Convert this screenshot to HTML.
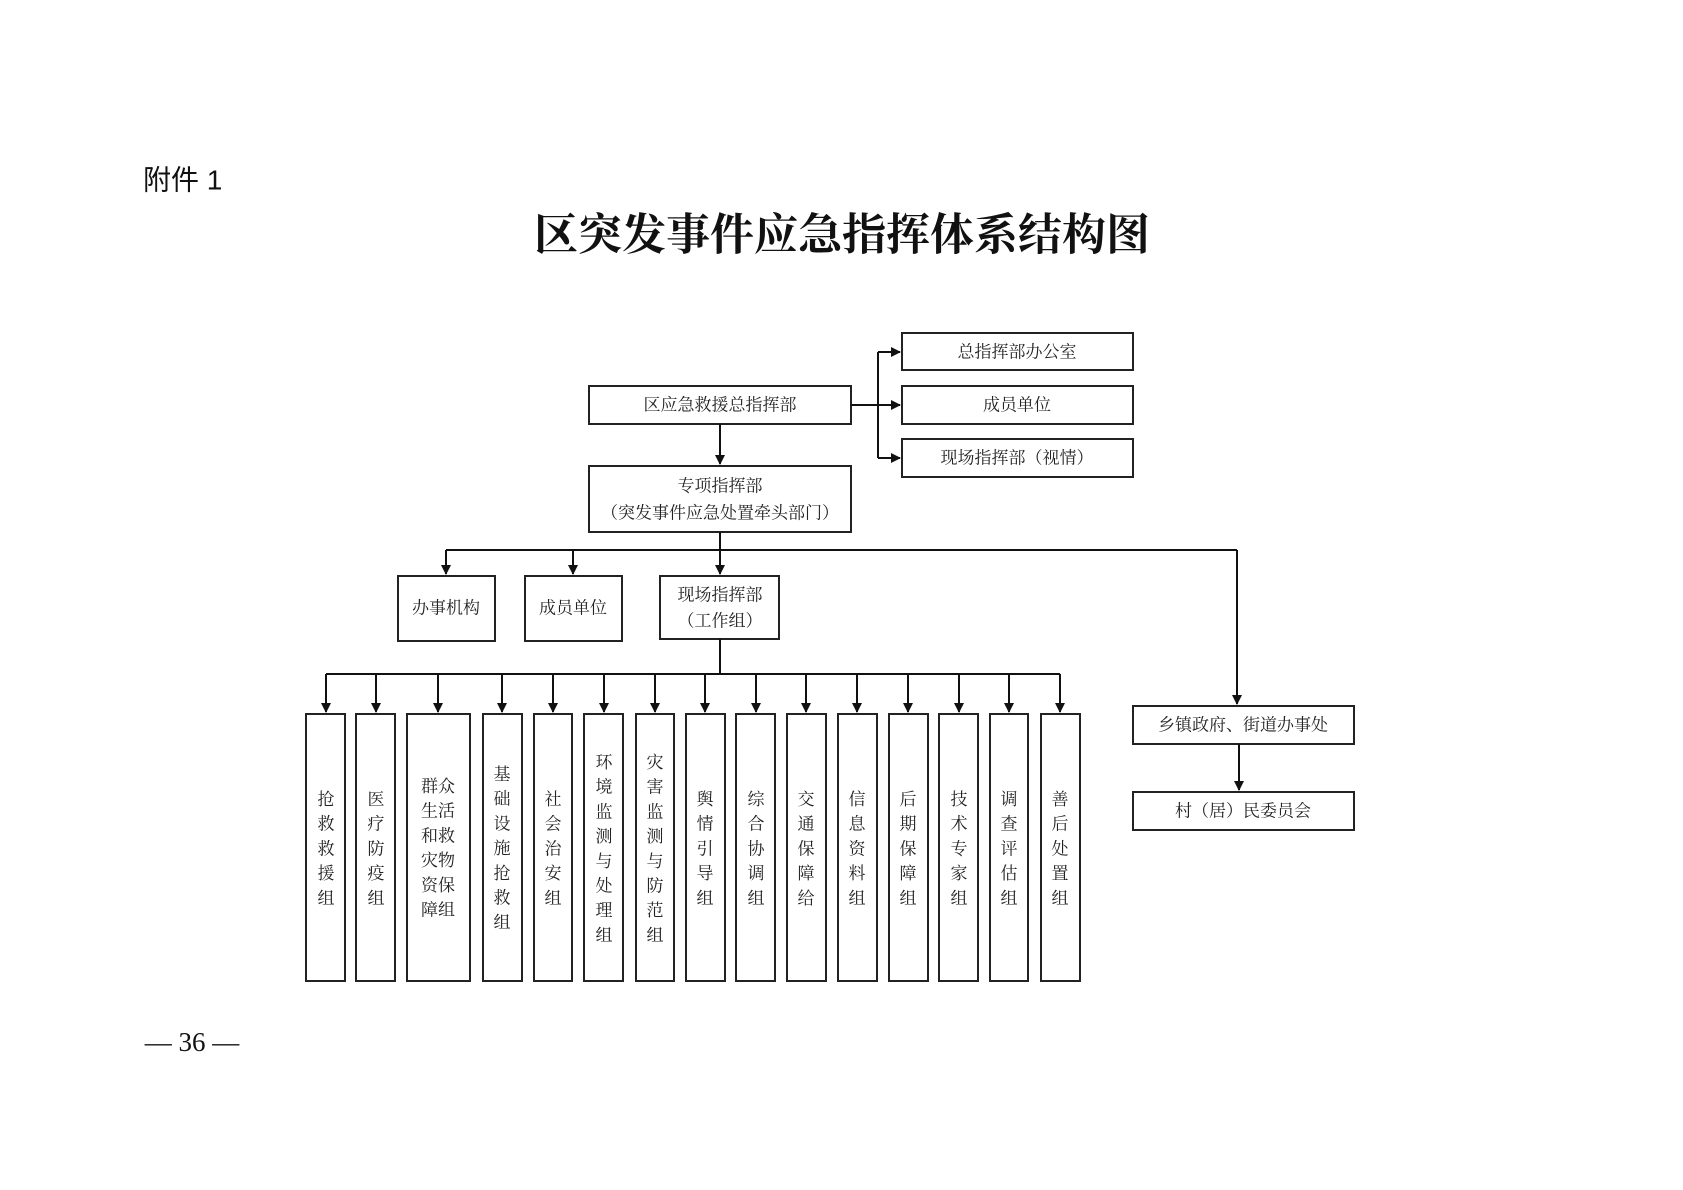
<!DOCTYPE html>
<html><head><meta charset="utf-8"><style>
html,body{margin:0;padding:0;background:#fff;}
svg{display:block;}
.t{font-family:"Liberation Serif","Noto Serif CJK SC",serif;font-size:17px;fill:#222;text-anchor:middle;dominant-baseline:central;}
</style></head><body>
<svg width="1683" height="1190" viewBox="0 0 1683 1190" xmlns="http://www.w3.org/2000/svg">
<defs><marker id="a" markerWidth="10" markerHeight="10" refX="9" refY="5" orient="auto" markerUnits="userSpaceOnUse"><path d="M0,0 L10,5 L0,10 z" fill="#111"/></marker></defs>
<text x="143" y="180" style="font-family:'Liberation Sans','Noto Sans CJK SC',sans-serif;font-size:28px;fill:#111;dominant-baseline:central">附件 1</text>
<text x="842" y="235" style="font-family:'Liberation Serif','Noto Serif CJK SC',serif;font-size:44px;font-weight:bold;fill:#111;text-anchor:middle;dominant-baseline:central">区突发事件应急指挥体系结构图</text>
<text x="192" y="1042" style="font-family:'Liberation Serif','Noto Serif CJK SC',serif;font-size:27px;fill:#111;text-anchor:middle;dominant-baseline:central">— 36 —</text>
<g fill="none" stroke="#222" stroke-width="2">
<rect x="589" y="386" width="262" height="38"/>
<rect x="902" y="333" width="231" height="37"/>
<rect x="902" y="386" width="231" height="38"/>
<rect x="902" y="439" width="231" height="38"/>
<rect x="589" y="466" width="262" height="66"/>
<rect x="398" y="576" width="97" height="65"/>
<rect x="525" y="576" width="97" height="65"/>
<rect x="660" y="576" width="119" height="63"/>
<rect x="1133" y="706" width="221" height="38"/>
<rect x="1133" y="792" width="221" height="38"/>
<rect x="306" y="714" width="39" height="267"/>
<rect x="356" y="714" width="39" height="267"/>
<rect x="407" y="714" width="63" height="267"/>
<rect x="483" y="714" width="39" height="267"/>
<rect x="534" y="714" width="38" height="267"/>
<rect x="584" y="714" width="39" height="267"/>
<rect x="636" y="714" width="38" height="267"/>
<rect x="686" y="714" width="39" height="267"/>
<rect x="736" y="714" width="39" height="267"/>
<rect x="787" y="714" width="39" height="267"/>
<rect x="838" y="714" width="39" height="267"/>
<rect x="889" y="714" width="39" height="267"/>
<rect x="939" y="714" width="39" height="267"/>
<rect x="990" y="714" width="38" height="267"/>
<rect x="1041" y="714" width="39" height="267"/>
</g>
<g fill="none" stroke="#111" stroke-width="2">
<path d="M851,405 H900" marker-end="url(#a)"/>
<path d="M878,352 V458"/>
<path d="M878,352 H900" marker-end="url(#a)"/>
<path d="M878,458 H900" marker-end="url(#a)"/>
<path d="M720,424 V464" marker-end="url(#a)"/>
<path d="M720,532 V574" marker-end="url(#a)"/>
<path d="M446,550 H1237"/>
<path d="M446,550 V574" marker-end="url(#a)"/>
<path d="M573,550 V574" marker-end="url(#a)"/>
<path d="M1237,550 V704" marker-end="url(#a)"/>
<path d="M1239,744 V790" marker-end="url(#a)"/>
<path d="M720,639 V674"/>
<path d="M326,674 H1060"/>
<path d="M326,674 V712" marker-end="url(#a)"/>
<path d="M376,674 V712" marker-end="url(#a)"/>
<path d="M438,674 V712" marker-end="url(#a)"/>
<path d="M502,674 V712" marker-end="url(#a)"/>
<path d="M553,674 V712" marker-end="url(#a)"/>
<path d="M604,674 V712" marker-end="url(#a)"/>
<path d="M655,674 V712" marker-end="url(#a)"/>
<path d="M705,674 V712" marker-end="url(#a)"/>
<path d="M756,674 V712" marker-end="url(#a)"/>
<path d="M806,674 V712" marker-end="url(#a)"/>
<path d="M857,674 V712" marker-end="url(#a)"/>
<path d="M908,674 V712" marker-end="url(#a)"/>
<path d="M959,674 V712" marker-end="url(#a)"/>
<path d="M1009,674 V712" marker-end="url(#a)"/>
<path d="M1060,674 V712" marker-end="url(#a)"/>
</g>
<g class="t">
<text class="t" x="720" y="405">区应急救援总指挥部</text>
<text class="t" x="1017" y="352">总指挥部办公室</text>
<text class="t" x="1017" y="405">成员单位</text>
<text class="t" x="1017" y="458">现场指挥部（视情）</text>
<text class="t" x="720" y="486">专项指挥部</text>
<text class="t" x="720" y="513">（突发事件应急处置牵头部门）</text>
<text class="t" x="446" y="608">办事机构</text>
<text class="t" x="573" y="608">成员单位</text>
<text class="t" x="720" y="595">现场指挥部</text>
<text class="t" x="720" y="621">（工作组）</text>
<text class="t" x="1243" y="725">乡镇政府、街道办事处</text>
<text class="t" x="1243" y="811">村（居）民委员会</text>
<text class="t" x="326" y="799"><tspan x="326">抢</tspan><tspan x="326" dy="24.7">救</tspan><tspan x="326" dy="24.7">救</tspan><tspan x="326" dy="24.7">援</tspan><tspan x="326" dy="24.7">组</tspan></text>
<text class="t" x="376" y="799"><tspan x="376">医</tspan><tspan x="376" dy="24.7">疗</tspan><tspan x="376" dy="24.7">防</tspan><tspan x="376" dy="24.7">疫</tspan><tspan x="376" dy="24.7">组</tspan></text>
<text class="t" x="438" y="786"><tspan x="438">群众</tspan><tspan x="438" dy="24.7">生活</tspan><tspan x="438" dy="24.7">和救</tspan><tspan x="438" dy="24.7">灾物</tspan><tspan x="438" dy="24.7">资保</tspan><tspan x="438" dy="24.7">障组</tspan></text>
<text class="t" x="502" y="774"><tspan x="502">基</tspan><tspan x="502" dy="24.7">础</tspan><tspan x="502" dy="24.7">设</tspan><tspan x="502" dy="24.7">施</tspan><tspan x="502" dy="24.7">抢</tspan><tspan x="502" dy="24.7">救</tspan><tspan x="502" dy="24.7">组</tspan></text>
<text class="t" x="553" y="799"><tspan x="553">社</tspan><tspan x="553" dy="24.7">会</tspan><tspan x="553" dy="24.7">治</tspan><tspan x="553" dy="24.7">安</tspan><tspan x="553" dy="24.7">组</tspan></text>
<text class="t" x="604" y="762"><tspan x="604">环</tspan><tspan x="604" dy="24.7">境</tspan><tspan x="604" dy="24.7">监</tspan><tspan x="604" dy="24.7">测</tspan><tspan x="604" dy="24.7">与</tspan><tspan x="604" dy="24.7">处</tspan><tspan x="604" dy="24.7">理</tspan><tspan x="604" dy="24.7">组</tspan></text>
<text class="t" x="655" y="762"><tspan x="655">灾</tspan><tspan x="655" dy="24.7">害</tspan><tspan x="655" dy="24.7">监</tspan><tspan x="655" dy="24.7">测</tspan><tspan x="655" dy="24.7">与</tspan><tspan x="655" dy="24.7">防</tspan><tspan x="655" dy="24.7">范</tspan><tspan x="655" dy="24.7">组</tspan></text>
<text class="t" x="705" y="799"><tspan x="705">舆</tspan><tspan x="705" dy="24.7">情</tspan><tspan x="705" dy="24.7">引</tspan><tspan x="705" dy="24.7">导</tspan><tspan x="705" dy="24.7">组</tspan></text>
<text class="t" x="756" y="799"><tspan x="756">综</tspan><tspan x="756" dy="24.7">合</tspan><tspan x="756" dy="24.7">协</tspan><tspan x="756" dy="24.7">调</tspan><tspan x="756" dy="24.7">组</tspan></text>
<text class="t" x="806" y="799"><tspan x="806">交</tspan><tspan x="806" dy="24.7">通</tspan><tspan x="806" dy="24.7">保</tspan><tspan x="806" dy="24.7">障</tspan><tspan x="806" dy="24.7">给</tspan></text>
<text class="t" x="857" y="799"><tspan x="857">信</tspan><tspan x="857" dy="24.7">息</tspan><tspan x="857" dy="24.7">资</tspan><tspan x="857" dy="24.7">料</tspan><tspan x="857" dy="24.7">组</tspan></text>
<text class="t" x="908" y="799"><tspan x="908">后</tspan><tspan x="908" dy="24.7">期</tspan><tspan x="908" dy="24.7">保</tspan><tspan x="908" dy="24.7">障</tspan><tspan x="908" dy="24.7">组</tspan></text>
<text class="t" x="959" y="799"><tspan x="959">技</tspan><tspan x="959" dy="24.7">术</tspan><tspan x="959" dy="24.7">专</tspan><tspan x="959" dy="24.7">家</tspan><tspan x="959" dy="24.7">组</tspan></text>
<text class="t" x="1009" y="799"><tspan x="1009">调</tspan><tspan x="1009" dy="24.7">查</tspan><tspan x="1009" dy="24.7">评</tspan><tspan x="1009" dy="24.7">估</tspan><tspan x="1009" dy="24.7">组</tspan></text>
<text class="t" x="1060" y="799"><tspan x="1060">善</tspan><tspan x="1060" dy="24.7">后</tspan><tspan x="1060" dy="24.7">处</tspan><tspan x="1060" dy="24.7">置</tspan><tspan x="1060" dy="24.7">组</tspan></text>
</g>
</svg>
</body></html>
